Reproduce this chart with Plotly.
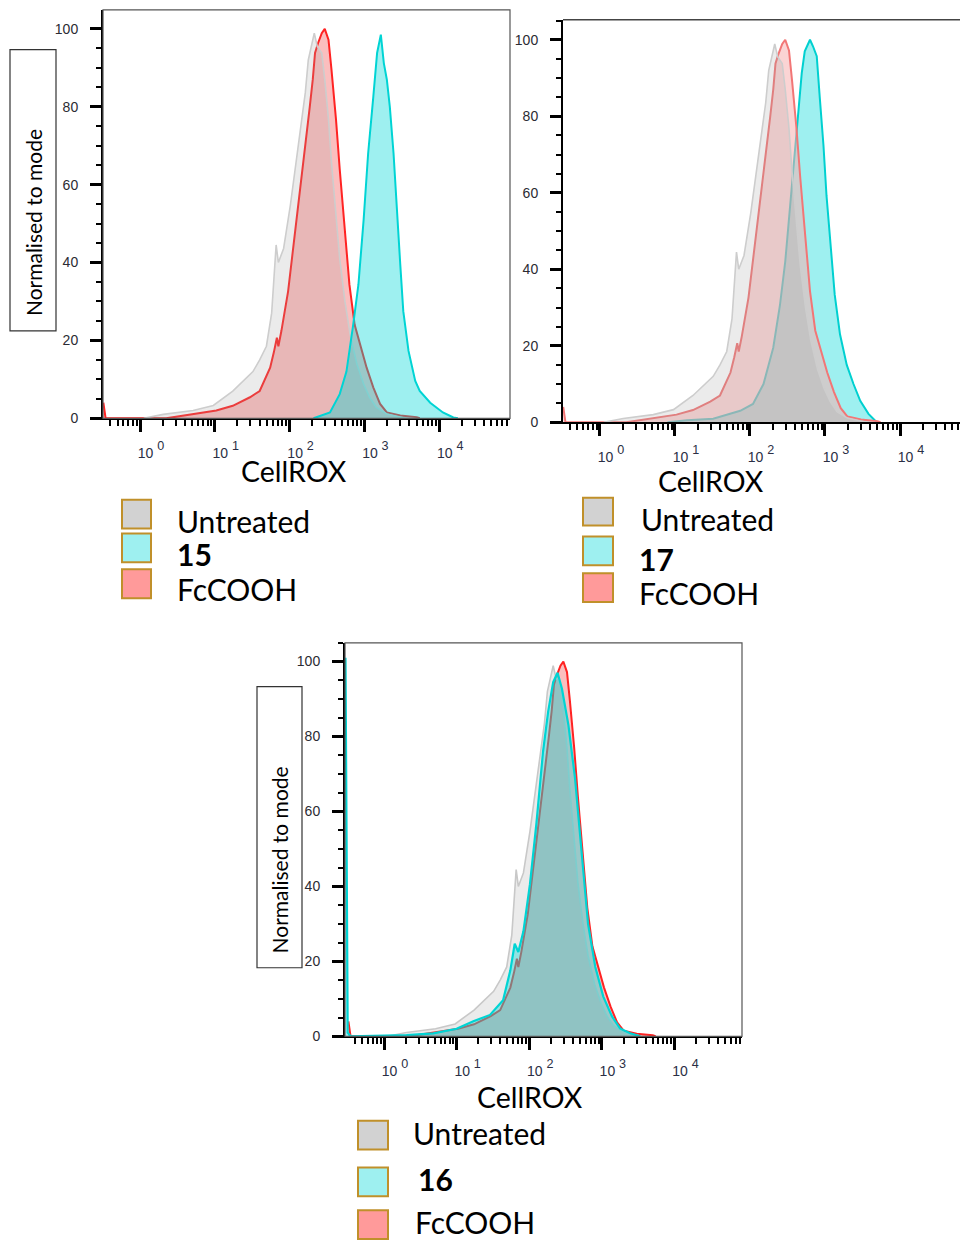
import plotly.graph_objects as go

# ---------------- data ----------------
# x values are log10(CellROX intensity); y values are % of mode
untreated_log = [0.05, 0.31, 0.71, 0.98, 1.24, 1.51, 1.60, 1.69, 1.76, 1.82, 1.85, 1.92, 2.01, 2.07,
                 2.16, 2.21, 2.25, 2.30, 2.33, 2.37, 2.43, 2.47, 2.52, 2.56, 2.61, 2.67, 2.74, 2.81,
                 2.90, 2.99, 3.07, 3.16, 3.30, 3.48, 3.55]
untreated_pct = [0, 1.0, 2.0, 3.3, 7, 12, 15, 18.5, 27, 44.5, 40, 43.6, 54.7, 63,
                 76.8, 83.6, 92, 96.3, 98.9, 95.5, 93.8, 87, 76.8, 65.7, 54.7, 41, 30, 21.5,
                 13.9, 8.8, 5.4, 2.8, 1.1, 0.3, 0]

fccooh_log = [-0.49, -0.46, 0.35, 0.71, 1.02, 1.24, 1.47, 1.60, 1.74, 1.79, 1.83, 1.85, 1.89, 1.98,
              2.07, 2.16, 2.23, 2.27, 2.31, 2.34, 2.38, 2.43, 2.47, 2.52, 2.56, 2.62, 2.67, 2.74,
              2.80, 2.87, 2.94, 3.03, 3.12, 3.21, 3.30, 3.48, 3.70, 3.74]
fccooh_pct = [4, 0, 0, 1, 2, 3.2, 5.4, 7, 13, 17, 20.7, 18.5, 22.4, 32.6,
              47, 61.5, 72.5, 80, 87, 93.8, 96.3, 98.9, 100, 97.2, 89.5, 76.8, 64, 47,
              34.3, 24, 19, 13, 7.9, 3.7, 1.5, 0.7, 0.3, 0]

cpd15_log = [2.32, 2.54, 2.67, 2.76, 2.85, 2.92, 2.99, 3.05, 3.12, 3.17, 3.22, 3.26, 3.30, 3.34,
             3.39, 3.43, 3.48, 3.52, 3.59, 3.68, 3.74, 3.88, 4.05, 4.19, 4.25]
cpd15_pct = [0, 1.5, 6.2, 12, 24, 34.3, 51, 68, 82.7, 93.8, 98.5, 91.2, 87, 80,
             68, 53.8, 39.4, 27.5, 17.3, 9.6, 7, 4, 1.5, 0.2, 0]

cpd17_log = [0.9, 1.16, 1.51, 1.87, 2.04, 2.18, 2.31, 2.40, 2.47, 2.53, 2.60, 2.64, 2.69, 2.73,
             2.80, 2.84, 2.89, 2.93, 2.98, 3.02, 3.07, 3.13, 3.20, 3.29, 3.38, 3.47, 3.58, 3.69]
cpd17_pct = [0, 0.5, 0.9, 3, 4.8, 10, 19.5, 30.7, 42, 55.8, 69.7, 81, 91.3, 97,
             100, 98.3, 95.7, 85, 72.3, 59.3, 46.3, 33.3, 23, 15, 10, 5.6, 2.2, 0]

cpd16_log = [-0.53, -0.50, -0.46, 0.31, 0.68, 1.0, 1.23, 1.46, 1.64, 1.74, 1.80, 1.85, 1.92, 2.01,
             2.10, 2.19, 2.26, 2.33, 2.39, 2.45, 2.54, 2.63, 2.72, 2.81, 2.91, 3.02, 3.14, 3.25,
             3.39, 3.53]
cpd16_pct = [101, 1, 0, 0.3, 0.8, 2, 4, 5.7, 9.6, 17.6, 24.7, 22.5, 28, 40.6,
             57, 76, 86.6, 94.5, 97, 92.8, 83, 69, 49.4, 30, 18.5, 10.6, 5.3, 2.1,
             0.8, 0]

xtick_exp = [0, 1, 2, 3, 4]
xtick_text = ["<span style='font-size:14px'>10 </span><sup>%d</sup>" % e for e in xtick_exp]
ytick_vals = [0, 20, 40, 60, 80, 100]
series_names = ["Untreated", "FcCOOH"]
compound_labels = ["15", "17", "16"]
x_title = "CellROX"
y_title = "Normalised to mode"

# ---------------- layout helpers ----------------
W, H = 960, 1244


def fx(px):
    return px / W


def fy(py):
    return 1 - py / H


minor_vals = [m * 10 ** d for d in range(-1, 5) for m in range(2, 10)]
minor_vals = [v for v in minor_vals if v > 0.35]

TICKFONT_X = dict(family="Liberation Sans, Arial", size=18, color="#2b2f45")
TICKFONT_Y = dict(family="Liberation Sans, Arial", size=14, color="#2b2b33")
TXT = "Lato, Open Sans, sans-serif"

panels = [
    # left, right, top, bottom (px), x range (log10), y max
    dict(box=(103, 510, 10, 421), xr=[-0.495, 4.947], ymax=104.85, frame="full"),
    dict(box=(563, 960, 20, 425), xr=[-0.493, 4.80], ymax=105.2, frame="top"),
    dict(box=(345, 742, 647, 1043), xr=[-0.537, 4.93], ymax=105.0, frame="full"),
]

fig = go.Figure()
layout = dict(autosize=True, margin=dict(l=0, r=0, t=0, b=0, pad=0),
              paper_bgcolor="white", plot_bgcolor="white", showlegend=False)
shapes, annotations = [], []

for i, p in enumerate(panels):
    n = "" if i == 0 else str(i + 1)
    l, r, t, b = p["box"]
    layout["xaxis" + n] = dict(
        type="log", domain=[fx(l), fx(r)], anchor="y" + n, range=p["xr"],
        showline=True, linecolor="black", linewidth=2,
        ticks="outside", ticklen=12, tickwidth=3, tickcolor="black",
        tickmode="array", tickvals=[10 ** e for e in xtick_exp], ticktext=xtick_text,
        ticklabelshift=11, ticklabelstandoff=4, tickfont=TICKFONT_X,
        minor=dict(ticks="outside", ticklen=6, tickwidth=1.5, tickcolor="black",
                   tickmode="array", tickvals=minor_vals, showgrid=False),
        showgrid=False, zeroline=False, fixedrange=True)
    layout["yaxis" + n] = dict(
        domain=[fy(b), fy(t)], anchor="x" + n, range=[0, p["ymax"]],
        showline=True, linecolor="black", linewidth=2,
        ticks="outside", ticklen=11, tickwidth=3, tickcolor="black",
        tickmode="array", tickvals=ytick_vals, tickfont=TICKFONT_Y, ticklabelstandoff=9,
        minor=dict(ticks="outside", ticklen=5, tickwidth=2, tickcolor="black", dtick=5, showgrid=False),
        showgrid=False, zeroline=False, fixedrange=True)
    if p["frame"] == "full":
        shapes.append(dict(type="rect", xref="x%s domain" % n, yref="y%s domain" % n,
                           x0=0, x1=1, y0=0, y1=1, line=dict(color="#555555", width=1.2)))
    else:
        shapes.append(dict(type="line", xref="x%s domain" % n, yref="y%s domain" % n,
                           x0=0, x1=1, y0=1, y1=1, line=dict(color="#444444", width=1.5)))


def add(name, logs, pct, n, fill, line, lw):
    fig.add_trace(go.Scatter(
        x=[10 ** v for v in logs], y=pct, name=name, mode="lines", fill="tozeroy",
        fillcolor=fill, line=dict(color=line, width=lw),
        xaxis="x" + n, yaxis="y" + n, hoverinfo="skip"))


cyan_top_fill = "rgba(0,216,216,0.38)"
red_fill = "rgba(246,111,111,0.45)"
gray_fill = "rgba(160,160,160,0.21)"

# panel 1: compound 15
add(series_names[1], fccooh_log, fccooh_pct, "", red_fill, "rgb(255,35,35)", 2)
add(series_names[0], untreated_log, untreated_pct, "", gray_fill, "rgb(205,205,205)", 1.6)
add(compound_labels[0], cpd15_log, cpd15_pct, "", cyan_top_fill, "rgb(0,212,212)", 2)

# panel 2: compound 17
add(compound_labels[1], cpd17_log, cpd17_pct, "2", "rgb(158,240,240)", "rgb(0,208,208)", 2)
add(series_names[1], fccooh_log, fccooh_pct, "2", "rgba(248,176,176,0.54)", "rgb(242,118,118)", 2)
add(series_names[0], untreated_log, untreated_pct, "2", gray_fill, "rgb(205,205,205)", 1.6)

# panel 3: compound 16
add(series_names[1], fccooh_log, fccooh_pct, "3", red_fill, "rgb(255,35,35)", 2)
add(series_names[0], untreated_log, untreated_pct, "3", gray_fill, "rgb(200,200,200)", 1.6)
add(compound_labels[2], cpd16_log, cpd16_pct, "3", cyan_top_fill, "rgb(0,212,212)", 2.2)

# axis titles
for (cx, cy) in [(293.5, 474), (711, 484), (530, 1104)]:
    annotations.append(dict(text=x_title, x=fx(cx), y=fy(cy), xref="paper", yref="paper",
                            xanchor="center", yanchor="middle", showarrow=False,
                            font=dict(family=TXT, size=28.5, color="black")))

# boxed y titles
for (bx0, by0, bx1, by1, tx, ty) in [(10, 50, 56, 333, 33, 224.5), (257, 691, 302, 974, 279.5, 865.5)]:
    shapes.append(dict(type="rect", xref="paper", yref="paper", x0=fx(bx0), x1=fx(bx1),
                       y0=fy(by1), y1=fy(by0), line=dict(color="#333333", width=1.2)))
    annotations.append(dict(text=y_title, x=fx(tx), y=fy(ty), xref="paper", yref="paper",
                            xanchor="center", yanchor="middle", textangle=-90, showarrow=False,
                            font=dict(family=TXT, size=21, color="black")))

# legends (drawn boxes + labels)
leg_fill = ["rgb(210,210,210)", "rgb(158,240,240)", "rgb(255,154,154)"]
legends = [
    dict(sq_x=(122, 151), sq_y=[(503, 532), (537, 566), (573, 602)],
         tx=[175, 175, 175], ty=[524, 558, 593], label=compound_labels[0]),
    dict(sq_x=(583, 613), sq_y=[(501, 529), (540, 569), (577, 606)],
         tx=[639, 637, 637], ty=[522, 563, 597], label=compound_labels[1]),
    dict(sq_x=(358, 388), sq_y=[(1128, 1157), (1175, 1204), (1218, 1247)],
         tx=[411, 416, 413], ty=[1140, 1187, 1230], label=compound_labels[2]),
]
for lg in legends:
    texts = [series_names[0], "<b>%s</b>" % lg["label"], series_names[1]]
    for k in range(3):
        y0, y1 = lg["sq_y"][k]
        shapes.append(dict(type="rect", xref="paper", yref="paper",
                           x0=fx(lg["sq_x"][0]), x1=fx(lg["sq_x"][1]), y0=fy(y1), y1=fy(y0),
                           fillcolor=leg_fill[k], line=dict(color="#c0902a", width=2)))
        annotations.append(dict(text=texts[k], x=fx(lg["tx"][k]), y=fy(lg["ty"][k]),
                                xref="paper", yref="paper", xanchor="left", yanchor="middle",
                                showarrow=False, font=dict(family=TXT, size=30, color="black")))

layout["shapes"] = shapes
layout["annotations"] = annotations
fig.update_layout(**layout)
fig.write_html(
    "out.html",
    default_width="100vw", default_height="100vh",
    config={"displayModeBar": False, "responsive": True},
    post_script="document.documentElement.style.margin='0px';document.body.style.margin='0px';"
                "document.body.style.overflow='hidden';document.documentElement.style.overflow='hidden';"
                "window.dispatchEvent(new Event('resize'));")
